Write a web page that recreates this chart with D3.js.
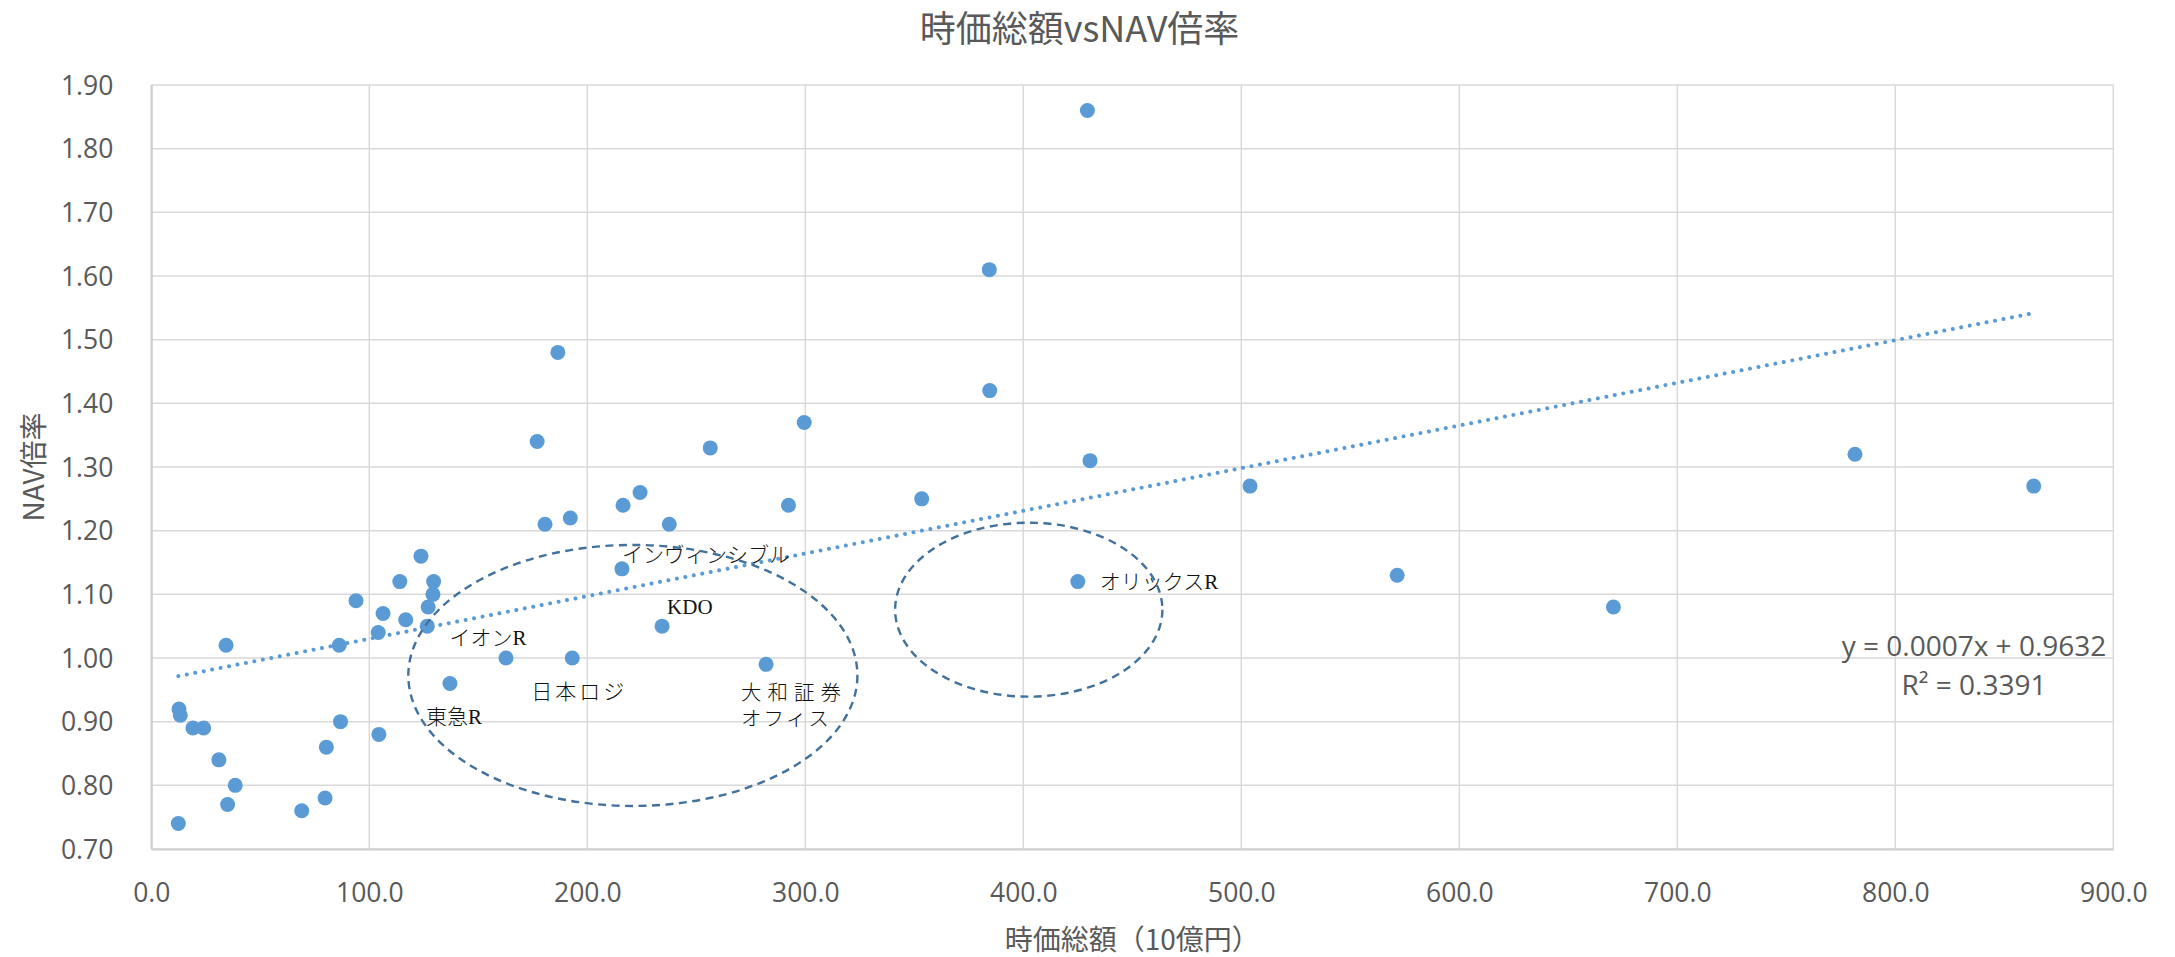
<!DOCTYPE html>
<html>
<head>
<meta charset="utf-8">
<script src="https://cdn.jsdelivr.net/npm/d3@7"></script>
<style>
  html, body { margin: 0; padding: 0; background: #fff; }
  svg { display: block; }
</style>
</head>
<body>
<svg id="chart" width="2175" height="957"></svg>
<script>
// ---- data ----
const mcap = [429.4, 384.4, 384.6, 430.6, 186.5, 177.0, 256.4, 299.5, 353.4, 292.3,
              224.2, 216.4, 237.6, 180.6, 192.2, 504.0, 781.5, 863.5, 571.5, 670.7,
              123.7, 114.0, 129.5, 129.2, 127.0, 93.9, 106.3, 116.7, 126.6, 104.1,
              34.3, 86.2, 12.7, 13.3, 19.1, 24.0, 86.8, 104.4, 31.0, 80.3,
              38.5, 35.0, 79.7, 69.0, 12.4];
const nav  = [1.86, 1.61, 1.42, 1.31, 1.48, 1.34, 1.33, 1.37, 1.25, 1.24,
              1.26, 1.24, 1.21, 1.21, 1.22, 1.27, 1.32, 1.27, 1.13, 1.08,
              1.16, 1.12, 1.12, 1.10, 1.08, 1.09, 1.07, 1.06, 1.05, 1.04,
              1.02, 1.02, 0.92, 0.91, 0.89, 0.89, 0.90, 0.88, 0.84, 0.86,
              0.80, 0.77, 0.78, 0.76, 0.74];
const labelNames = ["オリックスR", "インヴィンシブル", "KDO", "大和証券オフィス", "日本ロジ", "イオンR", "東急R"];
const labelMcap  = [425.0, 215.9, 234.3, 282.0, 193.1, 162.7, 137.0];
const labelNav   = [1.12, 1.14, 1.05, 0.99, 1.00, 1.00, 0.96];
const xTicks = [0, 100, 200, 300, 400, 500, 600, 700, 800, 900];
const yTicks = [0.70, 0.80, 0.90, 1.00, 1.10, 1.20, 1.30, 1.40, 1.50, 1.60, 1.70, 1.80, 1.90];
const trendSlope = 0.00067, trendIntercept = 0.9632;
const eqLine1 = "y = 0.0007x + 0.9632";
const eqLine2 = "R² = 0.3391";
// annotation ellipses (data units)
const ellipseCx = [220.9, 402.5];
const ellipseCy = [0.9726, 1.0759];
const ellipseRx = [103.0, 61.3];
const ellipseRy = [0.205, 0.1366];

const title = "時価総額vsNAV倍率";
const xTitle = "時価総額（10億円）";
const yTitle = "NAV倍率";

// ---- layout ----
const W = 2175, H = 957;
const L = 151.3, R = 2113.3, T = 85, B = 849;
const svg = d3.select("#chart");
const x = d3.scaleLinear().domain([0, 900]).range([L, R]);
const y = d3.scaleLinear().domain([0.70, 1.90]).range([B, T]);
const txtFont = "'Open Sans', 'Noto Sans', sans-serif";
const cjkFont = "'Noto Sans CJK JP', 'Noto Sans', sans-serif";
const gray = "#595959";

// gridlines
svg.append("g").selectAll("line.h").data(yTicks).join("line")
  .attr("x1", L).attr("x2", R).attr("y1", d => y(d)).attr("y2", d => y(d))
  .attr("stroke", "#d9d9d9").attr("stroke-width", 1.5);
svg.append("g").selectAll("line.v").data(xTicks).join("line")
  .attr("y1", T).attr("y2", B).attr("x1", d => x(d)).attr("x2", d => x(d))
  .attr("stroke", "#d9d9d9").attr("stroke-width", 1.5);

// axes
const xAxis = d3.axisBottom(x).tickValues(xTicks).tickFormat(d3.format(".1f")).tickSize(0).tickPadding(0);
const gx = svg.append("g").attr("transform", `translate(0,${B})`).call(xAxis);
gx.select(".domain").attr("stroke", "#cfcfcf").attr("stroke-width", 2);
gx.selectAll("text").attr("font-family", txtFont).attr("font-size", 26.5).attr("fill", gray)
  .attr("y", 43.5).attr("dy", "0.35em");

const yAxis = d3.axisLeft(y).tickValues(yTicks).tickFormat(d3.format(".2f")).tickSize(0).tickPadding(0);
const gy = svg.append("g").attr("transform", `translate(${L},0)`).call(yAxis);
gy.select(".domain").attr("stroke", "#cfcfcf").attr("stroke-width", 2);
gy.selectAll("text").attr("font-family", txtFont).attr("font-size", 26.5).attr("fill", gray)
  .attr("x", -38).attr("dy", "0.35em");

// points
const allX = mcap.concat(labelMcap), allY = nav.concat(labelNav);
svg.append("g").selectAll("circle").data(allX.map((d, i) => [d, allY[i]])).join("circle")
  .attr("cx", d => x(d[0])).attr("cy", d => y(d[1])).attr("r", 7.5)
  .attr("fill", "#5b9bd5");

// trendline
const xmin = d3.min(allX), xmax = d3.max(allX);
svg.append("line")
  .attr("x1", x(xmin)).attr("y1", y(trendIntercept + trendSlope * xmin))
  .attr("x2", x(xmax)).attr("y2", y(trendIntercept + trendSlope * xmax))
  .attr("stroke", "#5b9bd5").attr("stroke-width", 4)
  .attr("stroke-linecap", "round").attr("stroke-dasharray", "0.01 8.6");

// equation
svg.append("text").attr("x", 1974).attr("y", 656).attr("text-anchor", "middle")
  .attr("font-family", txtFont).attr("font-size", 28).attr("fill", gray).text(eqLine1);
svg.append("text").attr("x", 1974).attr("y", 695).attr("text-anchor", "middle")
  .attr("font-family", txtFont).attr("font-size", 28).attr("fill", gray).text(eqLine2);

// data labels
const labFont = "'Liberation Serif', 'DejaVu Serif', 'Noto Sans CJK JP', serif";
const labStyle = {
  "オリックスR":     {dx: 22, dy: 0, anchor: "start", ls: 0},
  "インヴィンシブル": {dx: 0, dy: -14, anchor: "start", ls: 0},
  "KDO":            {dx: 5, dy: -19, anchor: "start", ls: 0},
  "日本ロジ":        {dx: 7, dy: 34, anchor: "middle", ls: 3},
  "イオンR":         {dx: -18, dy: -20, anchor: "middle", ls: 0},
  "東急R":           {dx: 4, dy: 34, anchor: "middle", ls: 0}
};
labelNames.forEach((name, i) => {
  const px = x(labelMcap[i]), py = y(labelNav[i]);
  if (name === "大和証券オフィス") {
    const t = svg.append("text").attr("font-family", labFont).attr("font-size", 20.5)
      .attr("font-weight", 300)
      .attr("fill", "#111").attr("dominant-baseline", "central");
    t.append("tspan").attr("x", px - 25).attr("y", py + 29).attr("letter-spacing", 6).text("大和証券");
    t.append("tspan").attr("x", px - 25).attr("y", py + 55).attr("letter-spacing", 2).text("オフィス");
    return;
  }
  const s = labStyle[name];
  svg.append("text").attr("x", px + s.dx).attr("y", py + s.dy)
    .attr("text-anchor", s.anchor).attr("dominant-baseline", "central")
    .attr("letter-spacing", s.ls).attr("font-weight", 300)
    .attr("font-family", labFont).attr("font-size", 21).attr("fill", "#111").text(name);
});

// ellipses
svg.append("g").selectAll("ellipse").data(ellipseCx.map((d, i) => i)).join("ellipse")
  .attr("cx", i => x(ellipseCx[i])).attr("cy", i => y(ellipseCy[i]))
  .attr("rx", i => x(ellipseRx[i]) - x(0)).attr("ry", i => y(0) - y(ellipseRy[i]))
  .attr("fill", "none").attr("stroke", "#41719c").attr("stroke-width", 2.4)
  .attr("stroke-dasharray", "8 5.5");

// titles
svg.append("text").attr("x", W / 2 - 8).attr("y", 26).attr("text-anchor", "middle")
  .attr("dominant-baseline", "central")
  .attr("font-family", cjkFont).attr("font-size", 36).attr("fill", gray).text(title);
svg.append("text").attr("x", (L + R) / 2).attr("y", 938).attr("text-anchor", "middle")
  .attr("dominant-baseline", "central")
  .attr("font-family", cjkFont).attr("font-size", 28).attr("fill", gray).text(xTitle);
svg.append("text").attr("transform", `translate(32,${(T + B) / 2}) rotate(-90)`)
  .attr("text-anchor", "middle").attr("dominant-baseline", "central")
  .attr("font-family", cjkFont).attr("font-size", 28).attr("fill", gray).text(yTitle);
</script>
</body>
</html>
